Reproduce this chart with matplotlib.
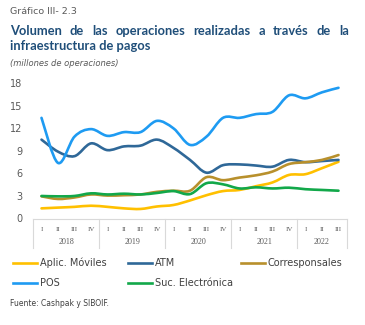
import matplotlib
matplotlib.use("Agg")
import matplotlib.pyplot as plt
from matplotlib.path import Path
from matplotlib.patches import PathPatch
from matplotlib.lines import Line2D
import matplotlib.transforms as mtransforms
import numpy as np

# trimestres 2018 I - 2022 III
anios = ['2018', '2019', '2020', '2021', '2022']
trimestres = ['I', 'II', 'III', 'IV'] * 4 + ['I', 'II', 'III']

aplic_moviles = [1.35, 1.45, 1.55, 1.7, 1.55, 1.35, 1.27, 1.6, 1.8, 2.4, 3.1, 3.65, 3.8, 4.3, 4.8, 5.8, 5.9, 6.7, 7.55]
atm = [10.5, 8.9, 8.3, 10.0, 9.1, 9.6, 9.7, 10.5, 9.4, 7.8, 6.1, 7.1, 7.2, 7.05, 6.9, 7.8, 7.5, 7.65, 7.8]
corresponsales = [2.95, 2.6, 2.8, 3.2, 3.05, 3.1, 3.2, 3.55, 3.7, 3.7, 5.5, 5.1, 5.45, 5.75, 6.25, 7.25, 7.5, 7.8, 8.45]
pos = [13.4, 7.4, 10.9, 11.9, 11.0, 11.5, 11.5, 13.0, 12.0, 9.8, 10.9, 13.4, 13.4, 13.9, 14.2, 16.4, 16.0, 16.8, 17.4]
suc_electronica = [3.0, 2.95, 3.0, 3.35, 3.2, 3.3, 3.2, 3.4, 3.65, 3.25, 4.7, 4.55, 4.0, 4.15, 4.0, 4.1, 3.9, 3.8, 3.7]

series = [
    ('Aplic. Móviles', aplic_moviles, '#FFC000'),
    ('ATM', atm, '#2F6898'),
    ('Corresponsales', corresponsales, '#B8902C'),
    ('POS', pos, '#1E9BF2'),
    ('Suc. Electrónica', suc_electronica, '#12A84A'),
]

GRIS = '#595959'


def curva_suave(x, y):
    # linea suavizada tipo Excel (Catmull-Rom -> Bezier)
    p = np.column_stack([x, y]).astype(float)
    n = len(p)
    verts = [p[0]]
    codes = [Path.MOVETO]
    for i in range(n - 1):
        p0 = p[max(i - 1, 0)]
        p1 = p[i]
        p2 = p[i + 1]
        p3 = p[min(i + 2, n - 1)]
        verts += [p1 + (p2 - p0) / 6, p2 - (p3 - p1) / 6, p2]
        codes += [Path.CURVE4] * 3
    return Path(verts, codes)


fig = plt.figure(figsize=(3.65, 3.25), dpi=100)
ax = fig.add_axes([33.25 / 365, 1 - 218.5 / 325, (346.75 - 33.25) / 365, (218.5 - 83.3) / 325])

x = np.arange(len(trimestres))
for nombre, valores, color in series:
    ax.add_patch(PathPatch(curva_suave(x, valores), fill=False, edgecolor=color,
                           lw=1.9, capstyle='round', joinstyle='round'))

ax.set_xlim(-0.5, len(trimestres) - 0.5)
ax.set_ylim(0, 18)
ax.set_yticks(range(0, 19, 3))
ax.tick_params(axis='y', length=0, labelsize=7, labelcolor=GRIS, pad=8)
ax.set_xticks(x)
ax.set_xticklabels(trimestres, fontsize=5, family='Liberation Serif', color=GRIS)
ax.tick_params(axis='x', length=0, pad=6)
for s in ['top', 'right', 'left']:
    ax.spines[s].set_visible(False)
ax.spines['bottom'].set_color('#D9D9D9')
ax.spines['bottom'].set_linewidth(0.8)

# separadores y etiquetas de año
trans = mtransforms.blended_transform_factory(ax.transData, ax.transAxes)
limites = [-0.5, 3.5, 7.5, 11.5, 15.5, 18.5]
for xb in limites:
    ax.plot([xb, xb], [0, -0.215], color='#D9D9D9', lw=0.8, transform=trans, clip_on=False)
for i, anio in enumerate(anios):
    centro = (limites[i] + limites[i + 1]) / 2
    ax.text(centro, -0.175, anio, transform=trans, ha='center', va='center',
            fontsize=5.8, family='Liberation Serif', color=GRIS)

# encabezado
fig.text(10 / 365, 1 - 12 / 325, 'Gráfico III- 2.3', fontsize=6.8, color=GRIS, va='center')

renderer = fig.canvas.get_renderer()
palabras = 'Volumen de las operaciones realizadas a través de la'.split()
objs = [fig.text(0, 1 - 31 / 325, w, fontsize=9.3, fontweight='bold', color='#1F4E79',
                 family='Lato', va='center') for w in palabras]
anchos = [o.get_window_extent(renderer).width for o in objs]
x0, x1 = 10, 349
hueco = (x1 - x0 - sum(anchos)) / (len(palabras) - 1)
pos_x = x0
for o, a in zip(objs, anchos):
    o.set_x(pos_x / 365)
    pos_x += a + hueco
fig.text(10 / 365, 1 - 46 / 325, 'infraestructura de pagos', fontsize=9.3, fontweight='bold',
         color='#1F4E79', family='Lato', va='center')
fig.text(10 / 365, 1 - 63 / 325, '(millones de operaciones)', fontsize=6, style='italic',
         color=GRIS, va='center')

# leyenda
filas = [(262.5, [(13, 'Aplic. Móviles', 0), (128, 'ATM', 1), (241, 'Corresponsales', 2)]),
         (282.5, [(13, 'POS', 3), (128, 'Suc. Electrónica', 4)])]
for yy, items in filas:
    for xx, etiqueta, k in items:
        color = series[k][2]
        fig.add_artist(Line2D([xx / 365, (xx + 24) / 365], [1 - yy / 325] * 2, color=color,
                              lw=1.9, transform=fig.transFigure))
        fig.text((xx + 27) / 365, 1 - yy / 325, etiqueta, fontsize=7, color='#404040', va='center')

fig.text(10 / 365, 1 - 304 / 325, 'Fuente: Cashpak y SIBOIF.', fontsize=5.5, color='#404040', va='center')

fig.savefig('out.png', dpi=100)
